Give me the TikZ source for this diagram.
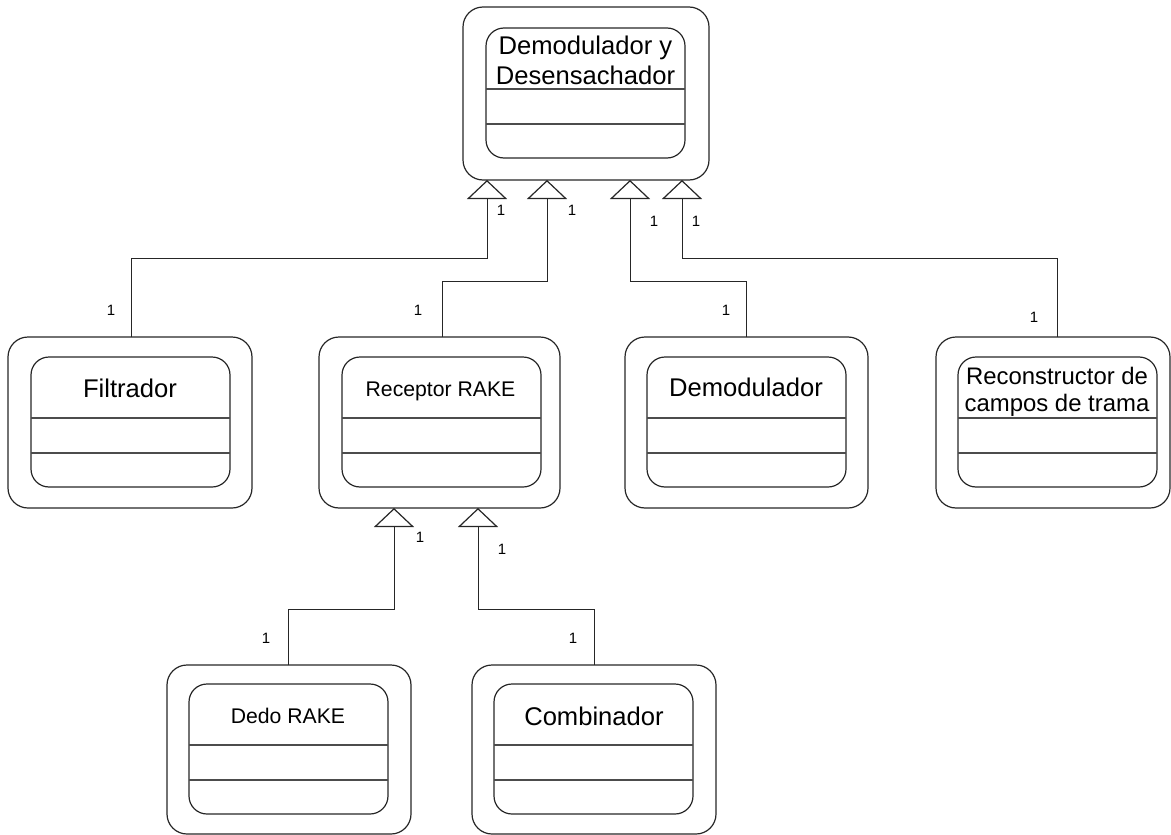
\documentclass[tikz,border=0pt]{standalone}
\usepackage{fontspec}
\setmainfont{Liberation Sans}
\usetikzlibrary{arrows.meta}

% Class symbol: outer rounded frame plus inner three-compartment box
% #1 name, #2/#3 outer left/right, #4/#5 outer top/bottom, #6 inner left, #7 inner top
\newcommand\umlclass[7]{%
  \node[outerbox, minimum width={#3-#2}, minimum height={#5-#4}]
    (#1) at ({(#2+#3)/2},{(#4+#5)/2}) {};
  \node[innerbox] (#1-in) at ({#6+99.5},{#7+65}) {};
  \draw[divider] ({#6},{#7+61}) -- ({#6+199},{#7+61});
  \draw[divider] ({#6},{#7+96}) -- ({#6+199},{#7+96});
}

\tikzset{
  outerbox/.style={draw=black!85, line width=1.2pt, rounded corners=20pt,
    inner sep=0pt, outer sep=0pt},
  innerbox/.style={draw=black!85, line width=1.2pt, rounded corners=18pt,
    minimum width=199pt, minimum height=130pt, inner sep=0pt, outer sep=0pt},
  divider/.style={draw=black!70, line width=1.2pt},
  bigname/.style={inner sep=0pt, align=center,
    font=\fontsize{25.6}{30}\selectfont},
  smallname/.style={inner sep=0pt, font=\fontsize{21.2}{25}\selectfont},
  recname/.style={inner sep=0pt, align=center,
    font=\fontsize{23.9}{26.5}\selectfont},
  mult/.style={inner sep=0pt, font=\fontsize{15}{18}\selectfont},
  gen/.style={draw=black!85, line width=1pt,
    -{Triangle[open, length=19pt, width=40pt, line width=1.2pt]}},
}

\begin{document}
\begin{tikzpicture}[x=1pt, y=-1pt]
\useasboundingbox (0,0) rectangle (1171,835);

% classes
\umlclass{demdes}{463}{709}{7}{180}{486}{28}
\umlclass{filt}{8}{252}{337}{508}{31}{357}
\umlclass{rake}{319}{560}{337}{508}{342}{357}
\umlclass{demod}{625}{868}{337}{508}{647}{357}
\umlclass{recon}{936}{1170}{337}{508}{958}{357}
\umlclass{dedo}{167}{411}{665}{834}{189}{684}
\umlclass{comb}{472}{716}{665}{834}{494}{684}

% class names
\node[bigname] (demdes-name) at (585.5,60) {Demodulador y\\Desensachador};
\node[bigname] (filt-name) at (130,388) {Filtrador};
\node[smallname] (rake-name) at (440.5,391) {Receptor RAKE};
\node[bigname] (demod-name) at (746,387) {Demodulador};
\node[recname] (recon-name) at (1057,392) {Reconstructor de\\campos de trama};
\node[smallname] (dedo-name) at (288,716) {Dedo RAKE};
\node[bigname] (comb-name) at (594,716) {Combinador};

% attachment points on the parents
\coordinate (a1) at (487,180);
\coordinate (a2) at (547,180);
\coordinate (a3) at (630,180);
\coordinate (a4) at (682,180);
\coordinate (b1) at (394,508);
\coordinate (b2) at (478,508);

% start points on the children
\coordinate (s1) at (131,337);
\coordinate (s2) at (442,337);
\coordinate (s3) at (746,337);
\coordinate (s4) at (1057,337);
\coordinate (s5) at (288,665);
\coordinate (s6) at (594,665);

% generalisation connectors
\draw[gen] (s1) -- (131,258) -| (a1);
\draw[gen] (s2) -- (442,281) -| (a2);
\draw[gen] (s3) -- (746,281) -| (a3);
\draw[gen] (s4) -- (1057,258) -| (a4);
\draw[gen] (s5) -- (288,609) -| (b1);
\draw[gen] (s6) -- (594,609) -| (b2);

% multiplicities
\node[mult] (m1) at (501,210) {1};
\node[mult] (m2) at (572,210) {1};
\node[mult] (m3) at (654,221) {1};
\node[mult] (m4) at (696,221) {1};
\node[mult] (m5) at (111,310) {1};
\node[mult] (m6) at (418,310) {1};
\node[mult] (m7) at (726,310) {1};
\node[mult] (m8) at (1034,317) {1};
\node[mult] (m9) at (420,537) {1};
\node[mult] (m10) at (502,549) {1};
\node[mult] (m11) at (266,638) {1};
\node[mult] (m12) at (573,638) {1};
\end{tikzpicture}
\end{document}
